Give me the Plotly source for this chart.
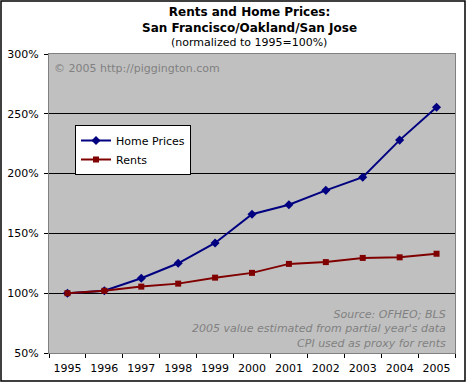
import plotly.graph_objects as go

years = ["1995", "1996", "1997", "1998", "1999", "2000", "2001", "2002", "2003", "2004", "2005"]
home_prices = [100, 102, 112.5, 125, 142, 166, 174, 186, 197, 228, 255.5]
rents = [100, 102, 105.5, 108, 113, 117, 124.5, 126, 129.5, 130, 133]
y_ticks = [50, 100, 150, 200, 250, 300]
y_tick_labels = ["50%", "100%", "150%", "200%", "250%", "300%"]

W, H = 467, 383
L, R, T, B = 49, 12, 54, 30
pw, ph = W - L - R, H - T - B
FONT = "DejaVu Sans"

def px(x):
    return (x - L) / pw

def py(y):
    return (H - B - y) / ph

fig = go.Figure()
fig.add_trace(go.Scatter(x=years, y=home_prices, name="Home Prices", mode="lines+markers",
                         line=dict(color="#000080", width=2),
                         marker=dict(symbol="diamond", size=7, color="#000080")))
fig.add_trace(go.Scatter(x=years, y=rents, name="Rents", mode="lines+markers",
                         line=dict(color="#800000", width=2),
                         marker=dict(symbol="square", size=6, color="#800000")))

fig.update_layout(
    width=W, height=H,
    margin=dict(l=L, r=R, t=T, b=B, autoexpand=False),
    paper_bgcolor="white",
    plot_bgcolor="#C0C0C0",
    font=dict(family=FONT, size=11, color="black"),
    showlegend=True,
    legend=dict(x=px(75), y=py(125), xanchor="left", yanchor="top",
                bgcolor="white", bordercolor="black", borderwidth=1,
                font=dict(family=FONT, size=11, color="black"),
                itemwidth=30, tracegroupgap=0),
    xaxis=dict(type="category", range=[-0.5, len(years) - 0.5], tickson="boundaries",
               ticks="outside", ticklen=4, ticklabelstandoff=5,
               tickcolor="black", showgrid=False, showline=True, linecolor="#808080",
               mirror=True, tickfont=dict(size=11), zeroline=False, tickangle=0,
               automargin=False),
    yaxis=dict(range=[50, 300], tickmode="array", tickvals=y_ticks, ticktext=y_tick_labels,
               ticks="outside", ticklen=4, ticklabelstandoff=3, tickcolor="black", showgrid=True,
               gridcolor="black", gridwidth=1, showline=True, linecolor="#808080",
               mirror=True, zeroline=False, tickfont=dict(size=11), automargin=False),
)

fig.add_annotation(xref="paper", yref="paper", x=px(249), y=py(20.5),
                   text="<b>Rents and Home Prices:<br>San Francisco/Oakland/San Jose</b>",
                   showarrow=False, xanchor="center", yanchor="middle",
                   font=dict(family=FONT, size=12, color="black"))
fig.add_annotation(xref="paper", yref="paper", x=px(249), y=py(42),
                   text="(normalized to 1995=100%)",
                   showarrow=False, xanchor="center", yanchor="middle",
                   font=dict(family=FONT, size=11, color="black"))

fig.add_annotation(xref="paper", yref="paper", x=px(52), y=py(69), text="© 2005 http://piggington.com",
                   showarrow=False, xanchor="left", yanchor="middle",
                   font=dict(family=FONT, size=11, color="#808080"))

src = ["Source: OFHEO; BLS", "2005 value estimated from partial year's data", "CPI used as proxy for rents"]
fig.add_annotation(xref="paper", yref="paper", x=px(448), y=py(329),
                   text="<i>" + "<br>".join(src) + "</i>", align="right",
                   showarrow=False, xanchor="right", yanchor="middle",
                   font=dict(family=FONT, size=11, color="#808080"))

fig.add_shape(type="rect", xref="paper", yref="paper",
              x0=px(1), x1=px(465), y0=py(381), y1=py(1),
              line=dict(color="black", width=1.5), layer="below")

fig.write_html("out.html", config={"displayModeBar": False},
               post_script="document.body.style.margin='0px';document.body.style.overflow='hidden';")
